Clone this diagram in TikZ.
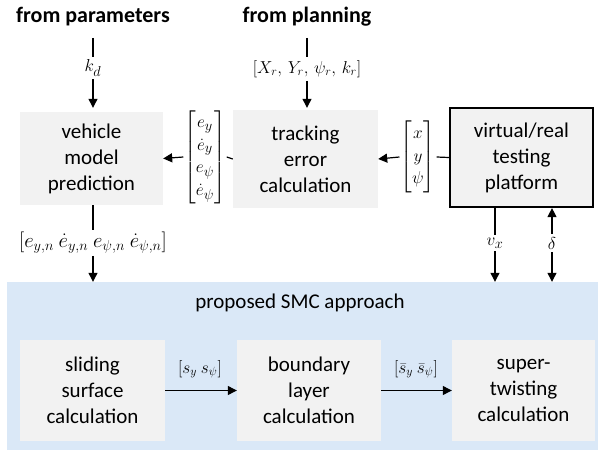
\documentclass[tikz,border=0pt]{standalone}
\usepackage{fontspec}
\usepackage{amsmath}
\setmainfont{Carlito}
\usetikzlibrary{arrows.meta}
\definecolor{boxgray}{HTML}{F2F2F2}
\definecolor{smcblue}{HTML}{DAE8F7}
\begin{document}
\begin{tikzpicture}[x=1pt,y=-1pt,
  blk/.style={fill=boxgray, draw=none, align=center, inner sep=0pt,
    font=\fontsize{21}{26}\selectfont},
  ttl/.style={font=\fontsize{22}{24}\selectfont\bfseries, inner sep=0pt},
  lbl/.style={font=\fontsize{17}{22}\selectfont, inner sep=3pt},
  biglbl/.style={lbl, font=\fontsize{19}{22.5}\selectfont},
  arr/.style={-{Triangle[length=9pt,width=9pt]}, line width=1.2pt},
  ln/.style={line width=1.2pt}]
\useasboundingbox (0,0) rectangle (600,452);

% SMC area
\node[fill=smcblue, draw=none, minimum width=591pt, minimum height=168pt, inner sep=0pt] (smc) at (302.5,366) {};
\node[font=\fontsize{21}{24}\selectfont, inner sep=0pt] (smct) at (300,303) {proposed SMC approach};

% titles
\node[ttl] (fpar) at (93,17) {from parameters};
\node[ttl] (fpla) at (307,17) {from planning};
\coordinate (kdtop) at (93,38);
\coordinate (reftop) at (307,38);

% top boxes
\node[blk, minimum width=143pt, minimum height=93pt] (vmp) at (91.5,158.5) {vehicle\\model\\prediction};
\node[blk, minimum width=145pt, minimum height=98pt] (tec) at (305.5,159) {tracking\\error\\calculation};
\node[blk, draw=black, line width=2.2pt, minimum width=143pt, minimum height=99pt] (plat) at (521.5,157.5) {virtual/real\\testing\\platform};

% bottom boxes
\node[blk, minimum width=145pt, minimum height=101pt] (sl) at (92.5,390.5) {sliding\\surface\\calculation};
\node[blk, minimum width=144pt, minimum height=101pt] (bl) at (309,390.5) {boundary\\layer\\calculation};
\node[blk, minimum width=143pt, minimum height=101pt] (st) at (523.5,390.5) {super-\\twisting\\calculation};

% labels
\node[biglbl] (kd) at (93,68) {$k_d$};
\node[lbl] (ref) at (307,69) {$[X_r,\,Y_r,\,\psi_r,\,k_r]$};
\node[biglbl, inner sep=1pt] (ev) at (205,157) {$\begin{bmatrix} e_y\\ \dot{e}_y\\ e_\psi\\ \dot{e}_\psi\end{bmatrix}$};
\node[biglbl, inner sep=1pt] (xv) at (418,157) {$\begin{bmatrix} x\\ y\\ \psi\end{bmatrix}$};
\node[lbl, font=\fontsize{21}{24}\selectfont, inner sep=2pt] (en) at (93,243) {$[e_{y,n}\ \dot{e}_{y,n}\ e_{\psi,n}\ \dot{e}_{\psi,n}]$};
\node[biglbl] (vx) at (495,243) {$v_x$};
\node[biglbl] (dl) at (552,243) {$\delta$};
\node[lbl] (ss) at (200,369) {$[s_y\ s_\psi]$};
\node[lbl] (sb) at (416,369) {$[\bar{s}_y\ \bar{s}_\psi]$};

% connectors
\draw[ln] (kdtop) -- (kd.north);
\draw[arr, shorten >=4pt] (kd.south) -- (kd.south |- vmp.north);
\draw[ln] (reftop) -- (ref.north);
\draw[arr, shorten >=2pt] (ref.south) -- (ref.south |- tec.north);
\draw[ln] (tec.west) -- (ev.east);
\draw[arr] (ev.west) -- (vmp.east);
\draw[ln] (plat.west) -- (xv.east);
\draw[arr] (xv.west) -- (tec.east);
\draw[ln] (en.north |- vmp.south) -- (en.north);
\draw[arr] (en.south) -- (en.south |- smc.north);
\draw[ln] (vx.north |- plat.south) -- (vx.north);
\draw[arr] (vx.south) -- (vx.south |- smc.north);
\draw[arr] (dl.north) -- (dl.north |- plat.south);
\draw[arr] (dl.south) -- (dl.south |- smc.north);
\draw[arr] (sl.east) -- (bl.west);
\draw[arr] (bl.east) -- (st.west);
\end{tikzpicture}
\end{document}
